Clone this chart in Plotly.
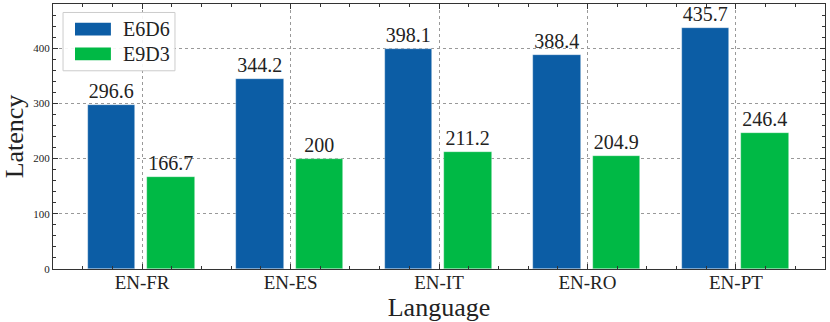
import plotly.graph_objects as go

categories = ["EN-FR", "EN-ES", "EN-IT", "EN-RO", "EN-PT"]
series_names = ["E6D6", "E9D3"]
e6d6 = [296.6, 344.2, 398.1, 388.4, 435.7]
e9d3 = [166.7, 200, 211.2, 204.9, 246.4]
colors = ["#0C5DA5", "#00B945"]
y_ticks = [0, 100, 200, 300, 400]

FONT = "Liberation Serif"
x = list(range(len(categories)))

fig = go.Figure()
for name, vals, col, off in [(series_names[0], e6d6, colors[0], -0.365),
                             (series_names[1], e9d3, colors[1], 0.035)]:
    fig.add_trace(go.Bar(
        x=x, y=vals, name=name, width=0.32, offset=off,
        marker=dict(color=col, line=dict(color="rgba(255,255,255,0.6)", width=0.6)),
        text=[f"{v:g}" for v in vals], textposition="outside",
        textfont=dict(family=FONT, size=20, color="#222"),
        cliponaxis=False, showlegend=False, hoverinfo="skip",
    ))

axis_common = dict(
    showline=True, linecolor="#333", linewidth=1.2, mirror="allticks",
    ticks="inside", ticklen=5, tickwidth=1, tickcolor="#333",
    showgrid=True, gridcolor="#999", griddash="dot", gridwidth=0.8,
    zeroline=False, automargin=False,
)

fig.update_xaxes(
    **axis_common, range=[-0.6, 4.6], tickvals=x, ticktext=categories,
    tickfont=dict(family=FONT, size=19, color="#222"), ticklabelstandoff=-4,
    minor=dict(ticks="inside", ticklen=3, dtick=0.2, tick0=0, tickcolor="#333", showgrid=False),
    title=dict(text="Language", font=dict(family=FONT, size=26, color="#222"), standoff=6),
)
fig.update_yaxes(
    **axis_common, range=[0, 480], tickvals=y_ticks,
    tickfont=dict(family=FONT, size=11, color="#222"),
    minor=dict(ticks="inside", ticklen=3, dtick=20, tick0=0, tickcolor="#333", showgrid=False),
    title=dict(text="Latency", font=dict(family=FONT, size=26, color="#222"), standoff=8),
)

# legend drawn in paper coords
fig.add_shape(type="rect", xref="paper", yref="paper", x0=0.013, x1=0.158, y0=0.748, y1=0.968,
              line=dict(color="#ccc", width=1), fillcolor="rgba(255,255,255,0.9)", layer="above")
for i, (name, col) in enumerate(zip(series_names, colors)):
    yc = 0.905 - i * 0.093
    fig.add_shape(type="rect", xref="paper", yref="paper", x0=0.0285, x1=0.075,
                  y0=yc - 0.024, y1=yc + 0.024, fillcolor=col, line=dict(width=0), layer="above")
    fig.add_annotation(xref="paper", yref="paper", x=0.088, y=yc, text=name, showarrow=False,
                       xanchor="left", yanchor="middle",
                       font=dict(family=FONT, size=20, color="#222"))

fig.update_layout(
    width=830, height=322, margin=dict(l=53, r=5, t=4, b=53),
    plot_bgcolor="white", paper_bgcolor="white", bargap=0,
)
fig.write_html("out.html", config={"displayModeBar": False},
               post_script="document.body.style.margin='0';")
